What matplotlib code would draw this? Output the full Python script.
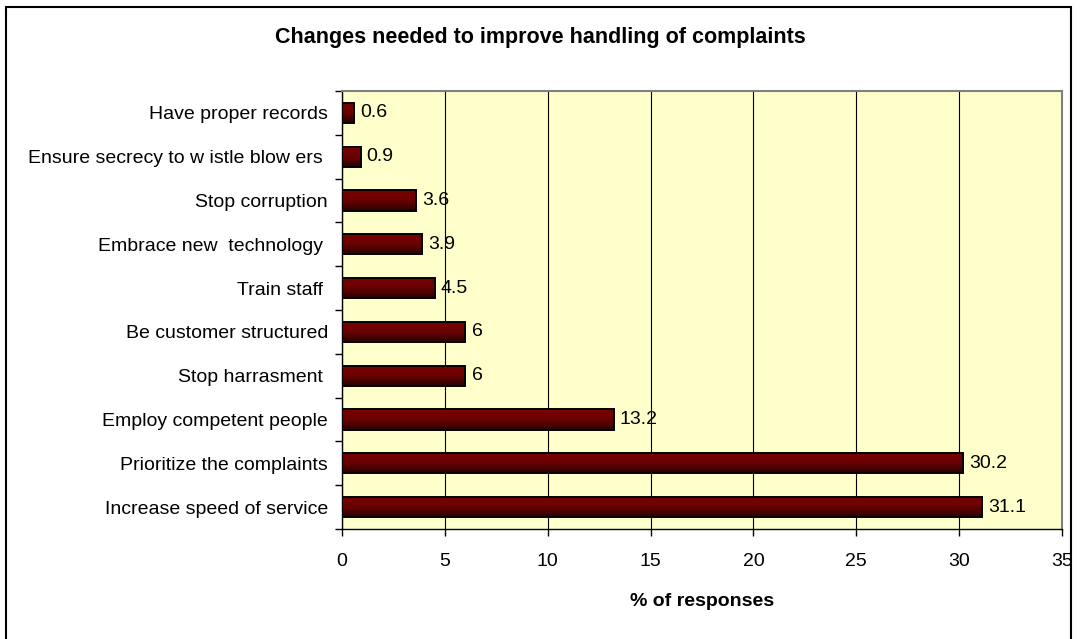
import numpy as np
import matplotlib.pyplot as plt
from matplotlib.colors import LinearSegmentedColormap
from matplotlib.patches import Rectangle

plt.rcParams['font.family'] = ['Liberation Sans', 'DejaVu Sans']

categories = ["Increase speed of service", "Prioritize the complaints", "Employ competent people",
              "Stop harrasment ", "Be customer structured", "Train staff ", "Embrace new  technology ",
              "Stop corruption", "Ensure secrecy to w istle blow ers ", "Have proper records"]
values = [31.1, 30.2, 13.2, 6, 6, 4.5, 3.9, 3.6, 0.9, 0.6]
value_labels = ["31.1", "30.2", "13.2", "6", "6", "4.5", "3.9", "3.6", "0.9", "0.6"]
xticks = [0, 5, 10, 15, 20, 25, 30, 35]

fs = 14
fig = plt.figure(figsize=(10.8, 6.39), dpi=100)
ax = fig.add_axes([342/1080, 1-529/639, 720/1080, 438/639])
ax.set_facecolor('#FFFFCC')

ypos = np.arange(len(categories))
bar_h = 0.46
grad = LinearSegmentedColormap.from_list('bar', ['#2a0000', '#6a0000', '#7a0000'])
g = np.linspace(0, 1, 64).reshape(-1, 1)
for y, v, lab in zip(ypos, values, value_labels):
    im = ax.imshow(g, cmap=grad, aspect='auto', origin='lower',
                   extent=(0, v, y - bar_h/2, y + bar_h/2), zorder=3)
    r = Rectangle((0, y - bar_h/2), v, bar_h, facecolor='none', edgecolor='black', lw=1.4, zorder=4)
    ax.add_patch(r)
    im.set_clip_path(r)
    ax.text(v + 0.3, y, lab, va='center', ha='left', fontsize=fs, zorder=5)

ax.set_xlim(0, 35)
ax.set_ylim(-0.5, len(categories) - 0.5)
ax.set_xticks(xticks)
ax.set_xticklabels([str(t) for t in xticks], fontsize=fs)
ax.set_yticks(ypos)
ax.set_yticklabels(categories, fontsize=fs)
ax.set_yticks(np.arange(-0.5, len(categories), 1), minor=True)
ax.tick_params(axis='y', which='major', length=0, pad=10)
ax.tick_params(axis='y', which='minor', length=5, direction='out', width=1)
ax.tick_params(axis='x', length=5, direction='out', width=1, pad=12)
ax.grid(axis='x', color='black', lw=0.8, zorder=1)
ax.set_axisbelow(True)
for s in ['top', 'right']:
    ax.spines[s].set_color('#808080')
    ax.spines[s].set_linewidth(1.5)
for s in ['left', 'bottom']:
    ax.spines[s].set_color('black')
    ax.spines[s].set_linewidth(1)

ax.set_xlabel("% of responses", fontsize=fs, fontweight='bold', labelpad=17)
fig.text(0.5, 1 - 38/639, "Changes needed to improve handling of complaints",
         ha='center', va='center', fontsize=15.5, fontweight='bold')

fig.patches.append(Rectangle((6/1080, -0.05), 1065/1080, 1 - 7/639 + 0.05, transform=fig.transFigure,
                             fill=False, edgecolor='black', lw=1.5))

fig.savefig('out.png', dpi=100)
